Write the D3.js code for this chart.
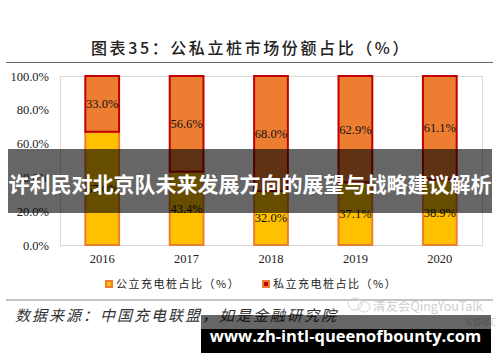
<!DOCTYPE html>
<html>
<head>
<meta charset="utf-8">
<script src="https://cdn.jsdelivr.net/npm/d3@7"></script>
<style>
  html, body { margin: 0; padding: 0; background: #fff; }
  svg { display: block; }
  .cjk { font-family: "Noto Sans CJK SC", sans-serif; }
  .num { font-family: "Liberation Serif", serif; }
</style>
</head>
<body>
<div class="chart"></div>
<script>
var years = ['2016', '2017', '2018', '2019', '2020'];
var publicShare = [67.0, 43.4, 32.0, 37.1, 38.9];
var privateShare = [33.0, 56.6, 68.0, 62.9, 61.1];
var yTicks = [0, 20, 40, 60, 80, 100];
var seriesNames = ['公立充电桩占比\uFF08%\uFF09', '私立充电桩占比\uFF08%\uFF09'];
var chartTitle = '图表35\uFF1A公私立桩市场份额占比\uFF08%\uFF09';
var sourceNote = '数据来源\uFF1A中国充电联盟\uFF0C如是金融研究院';
var bannerText = '许利民对北京队未来发展方向的展望与战略建议解析';
var siteText = 'www.zh-intl-queenofbounty.com';

var svg = d3.select('.chart').append('svg').attr('width', 500).attr('height', 362);

var x = d3.scaleBand().domain(years).range([60, 482]).paddingInner(0.6).paddingOuter(0.3);
var y = d3.scaleLinear().domain([0, 100]).range([245, 76]);

// header
svg.append('text').attr('class', 'cjk')
    .attr('x', 91).attr('y', 54)
    .attr('font-size', 16).attr('font-weight', 500).attr('letter-spacing', 2.6)
    .attr('fill', '#222')
    .text(chartTitle);
svg.append('line').attr('x1', 6).attr('x2', 493).attr('y1', 62.5).attr('y2', 62.5)
    .attr('stroke', '#666').attr('stroke-width', 1);

// plot frame
svg.append('rect')
    .attr('x', 60.5).attr('y', 76.5).attr('width', 422).attr('height', 169)
    .attr('fill', '#fff').attr('stroke', '#d9d9d9');

// bars
var rows = years.map((d, i) => ({year: d, pub: publicShare[i], pri: privateShare[i]}));

svg.selectAll('.pub').data(rows).join('rect')
    .attr('class', 'pub')
    .attr('x', d => x(d.year))
    .attr('width', x.bandwidth())
    .attr('y', d => y(d.pub))
    .attr('height', d => y(0) - y(d.pub))
    .attr('fill', '#ffc000').attr('stroke', '#ed7d31').attr('stroke-width', 2);

svg.selectAll('.pri').data(rows).join('rect')
    .attr('class', 'pri')
    .attr('x', d => x(d.year))
    .attr('width', x.bandwidth())
    .attr('y', d => y(d.pub + d.pri))
    .attr('height', d => y(d.pub) - y(d.pub + d.pri))
    .attr('fill', '#ed7d31').attr('stroke', '#c00000').attr('stroke-width', 2);

// data labels
svg.selectAll('.lab-pub').data(rows).join('text')
    .attr('class', 'lab-pub num')
    .attr('x', d => x(d.year) + x.bandwidth() / 2)
    .attr('y', d => y(d.pub / 2))
    .attr('dy', '0.35em').attr('text-anchor', 'middle')
    .attr('font-size', 12.5).attr('fill', '#111')
    .text(d => d.pub.toFixed(1) + '%');

svg.selectAll('.lab-pri').data(rows).join('text')
    .attr('class', 'lab-pri num')
    .attr('x', d => x(d.year) + x.bandwidth() / 2)
    .attr('y', d => y(d.pub + d.pri / 2))
    .attr('dy', '0.35em').attr('text-anchor', 'middle')
    .attr('font-size', 12.5).attr('fill', '#111')
    .text(d => d.pri.toFixed(1) + '%');

// axes
var yAxis = svg.append('g').attr('transform', 'translate(49,0)')
    .call(d3.axisLeft(y).tickValues(yTicks).tickSize(0).tickPadding(0).tickFormat(d => d.toFixed(1) + '%'));
yAxis.select('.domain').remove();
yAxis.selectAll('text').attr('font-size', 12.5).attr('fill', '#222')
    .style('font-family', '"Liberation Serif", serif');

var xAxis = svg.append('g').attr('transform', 'translate(0,254)')
    .call(d3.axisBottom(x).tickSize(0).tickPadding(0));
xAxis.select('.domain').remove();
xAxis.selectAll('text').attr('font-size', 12.5).attr('fill', '#222')
    .style('font-family', '"Liberation Serif", serif');

// legend
var legendX = [105, 262];
var legendFill = ['#ffc000', '#c00000'];
var legendEdge = ['#ed7d31', '#ed7d31'];
legendX.forEach((lx, i) => {
    svg.append('rect')
        .attr('x', lx + 1).attr('y', 281).attr('width', 6).attr('height', 6)
        .attr('fill', legendFill[i]).attr('stroke', legendEdge[i]).attr('stroke-width', 2);
    svg.append('text').attr('class', 'cjk')
        .attr('x', lx + 11).attr('y', 288)
        .attr('font-size', 11).attr('letter-spacing', 1.5)
        .attr('fill', '#222')
        .text(seriesNames[i]);
});

svg.append('line').attr('x1', 6).attr('x2', 493).attr('y1', 300).attr('y2', 300)
    .attr('stroke', '#888').attr('stroke-width', 1);

// source note
svg.append('text').attr('class', 'cjk')
    .attr('x', 15).attr('y', 321)
    .attr('font-size', 15).attr('font-style', 'italic').attr('letter-spacing', 2)
    .attr('fill', '#333')
    .text(sourceNote);

// watermark
var mark = svg.append('g').attr('fill', 'none').attr('stroke', '#d4d4d4');
mark.append('ellipse').attr('cx', 355).attr('cy', 304).attr('rx', 7).attr('ry', 6);
mark.append('ellipse').attr('cx', 364).attr('cy', 307).attr('rx', 6).attr('ry', 5);
svg.append('text').attr('class', 'cjk')
    .attr('x', 373).attr('y', 311)
    .attr('font-size', 12.5).attr('fill', '#cfcfcf')
    .text('清友会QingYouTalk');
svg.append('text').attr('class', 'cjk')
    .attr('x', 466).attr('y', 325)
    .attr('font-size', 8).attr('fill', '#c8c8c8')
    .text('G 协容汇');

// overlays
svg.append('rect').attr('x', 8).attr('y', 149).attr('width', 484).attr('height', 64)
    .attr('fill', '#000').attr('fill-opacity', 0.6);
svg.append('text').attr('class', 'cjk')
    .attr('x', 250).attr('y', 192)
    .attr('text-anchor', 'middle')
    .attr('font-size', 21).attr('font-weight', 700).attr('fill', '#fff')
    .text(bannerText);

svg.append('rect').attr('x', 201).attr('y', 315).attr('width', 290).attr('height', 14)
    .attr('fill', '#000').attr('fill-opacity', 0.6);
svg.append('rect').attr('x', 201).attr('y', 329).attr('width', 290).attr('height', 24)
    .attr('fill', '#000');
svg.append('text')
    .attr('x', 345.5).attr('y', 342)
    .attr('text-anchor', 'middle')
    .attr('font-family', '"Open Sans", sans-serif')
    .attr('font-size', 16.5).attr('font-weight', 700).attr('fill', '#fff')
    .text(siteText);
</script>
</body>
</html>
